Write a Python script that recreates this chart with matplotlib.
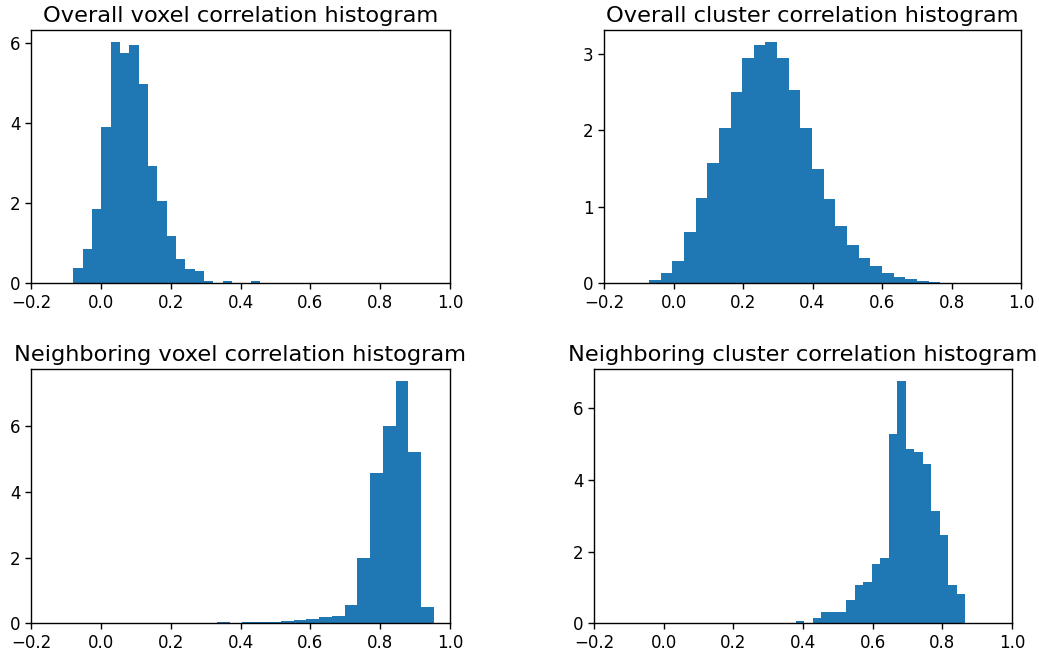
import numpy as np
import matplotlib
matplotlib.use("Agg")
import matplotlib.pyplot as plt

## bin ranges (lo, hi) and density heights
voxel_range = (-0.079, 0.456)
voxel_dens = [0.38, 0.86, 1.86, 3.91, 6.03, 5.76, 5.96, 4.98, 2.93, 2.06,
              1.18, 0.61, 0.36, 0.31, 0.06, 0.01, 0.06, 0.0, 0.0, 0.06]

cluster_range = (-0.104, 0.801)
cluster_dens = [0.005, 0.043, 0.135, 0.29, 0.67, 1.11, 1.57, 2.03, 2.50, 2.94,
                3.11, 3.15, 2.94, 2.52, 2.03, 1.49, 1.10, 0.75, 0.50, 0.33,
                0.226, 0.135, 0.083, 0.057, 0.03, 0.017, 0.005]

nb_voxel_range = (0.04, 0.954)
nb_voxel_dens = [0.01, 0.01, 0.01, 0.01, 0.01, 0.01, 0.01, 0.01, 0.05, 0.02,
                 0.04, 0.04, 0.04, 0.07, 0.10, 0.13, 0.19, 0.23, 0.56, 1.99,
                 4.58, 6.01, 7.38, 5.22, 0.50]

nb_cluster_range = (0.379, 0.865)
nb_cluster_dens = [0.056, 0.0, 0.14, 0.316, 0.316, 0.316, 0.65, 1.07, 1.15, 1.66,
                   1.82, 5.28, 6.76, 4.87, 4.78, 4.45, 3.14, 2.47, 1.07, 0.82]

titles = ["Overall voxel correlation histogram",
          "Overall cluster correlation histogram",
          "Neighboring voxel correlation histogram",
          "Neighboring cluster correlation histogram"]
xticks = [-0.2, 0.0, 0.2, 0.4, 0.6, 0.8, 1.0]
yticks = [[0, 2, 4, 6], [0, 1, 2, 3], [0, 2, 4, 6], [0, 2, 4, 6]]

W, H = 1039, 659
fig = plt.figure(figsize=(W / 100, H / 100), dpi=100)

# axes boxes in pixels: left, top, right, bottom
boxes = [(31, 30, 450, 283.3), (604, 30, 1021, 283.3),
         (31, 369, 450, 623.3), (594, 369, 1012, 623.3)]
panels = [(voxel_range, voxel_dens), (cluster_range, cluster_dens),
          (nb_voxel_range, nb_voxel_dens), (nb_cluster_range, nb_cluster_dens)]

for (l, t, r, b), (rng, dens), title, yt in zip(boxes, panels, titles, yticks):
    ax = fig.add_axes([l / W, 1 - b / H, (r - l) / W, (b - t) / H])
    edges = np.linspace(rng[0], rng[1], len(dens) + 1)
    ax.hist(edges[:-1], bins=edges, weights=dens, color="#1f77b4")
    ax.set_xlim(-0.2, 1.0)
    ax.set_xticks(xticks)
    ax.set_yticks(yt)
    ax.set_title(title, fontsize=16.2, pad=6)
    ax.tick_params(labelsize=12, length=4.2, width=1)
    for s in ax.spines.values():
        s.set_linewidth(1)

fig.savefig("out.png", dpi=100)
